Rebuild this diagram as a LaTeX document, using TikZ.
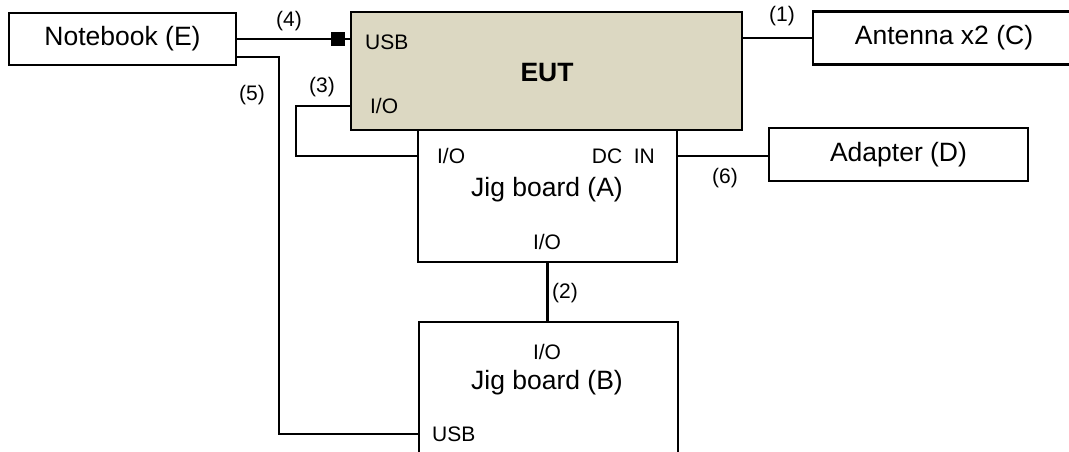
\documentclass[tikz,border=0pt]{standalone}
\usepackage{fontspec}
\setmainfont{Liberation Sans}
\usetikzlibrary{calc,positioning}
\definecolor{eutfill}{RGB}{220,216,194}

\begin{document}
\begin{tikzpicture}[x=1pt,y=-1pt,line width=2.2pt,
		box/.style={draw,rectangle,inner sep=0pt,font=\fontsize{26.5}{30}\selectfont},
		port/.style={inner sep=1pt,font=\fontsize{21}{24}\selectfont},
		wire/.style={line width=2.2pt}]
	\useasboundingbox (0,0) rectangle (1069,452);
	\clip (0,0) rectangle (1069,452);

	\node[box,minimum width=227,minimum height=52] (nb) at (122.5,39) {Notebook (E)};
	\node[box,fill=eutfill,minimum width=391,minimum height=118] (eut) at (546.5,71) {};
	\node[font=\fontsize{26.5}{30}\selectfont\bfseries] (euttxt) at (547,73) {EUT};
	\node[box,minimum width=262,minimum height=53] (ant) at (944,38) {Antenna x2 (C)};
	\node[box,minimum width=259,minimum height=132] (jigA) at (547.5,196) {};
	\node[box,minimum width=259,minimum height=53] (adp) at (898.5,154.5) {Adapter (D)};
	\node[box,minimum width=259,minimum height=158] (jigB) at (548.5,401) {};

	% ports
	\node[port,anchor=west] (eusb) at (363,42) {USB};
	\node[port,anchor=west] (euio) at (368,106) {I/O};
	\node[port,anchor=west] (jaio) at (435,156) {I/O};
	\node[port,anchor=east] (jadc) at (657,156) {DC\ \ IN};
	\node[font=\fontsize{26.5}{30}\selectfont] (jatxt) at (547,190) {Jig board (A)};
	\node[port] (jaio2) at (547,242) {I/O};
	\node[port] (jbio) at (547,352) {I/O};
	\node[font=\fontsize{26.5}{30}\selectfont] (jbtxt) at (547,383) {Jig board (B)};
	\node[port,anchor=west] (jbusb) at (430,434) {USB};

	% cables
	\draw[wire] (nb.east) -- (nb.east -| eut.west);
	\node[fill,inner sep=0pt,minimum size=14] (plug) at (337.5,39.5) {};
	\draw[wire] (ant.west) -- (ant.west -| eut.east);
	\draw[wire] ($(nb.east)+(0,18)$) -- ++(42,0) |- (jbusb -| jigB.west);
	\draw[wire] (euio -| eut.west) -- ++(-54,0) |- (jaio -| jigA.west);
	\draw[wire] (jadc -| jigA.east) -- (jadc -| adp.west);
	\draw[wire] (jigA.south) -- (jigA.south |- jigB.north);

	\node[port] (c1) at (782,16) {(1)};
	\node[port] (c2) at (565,293) {(2)};
	\node[port] (c3) at (322,87) {(3)};
	\node[port] (c4) at (289,21) {(4)};
	\node[port] (c5) at (252,95) {(5)};
	\node[port] (c6) at (725,178) {(6)};
\end{tikzpicture}
\end{document}
